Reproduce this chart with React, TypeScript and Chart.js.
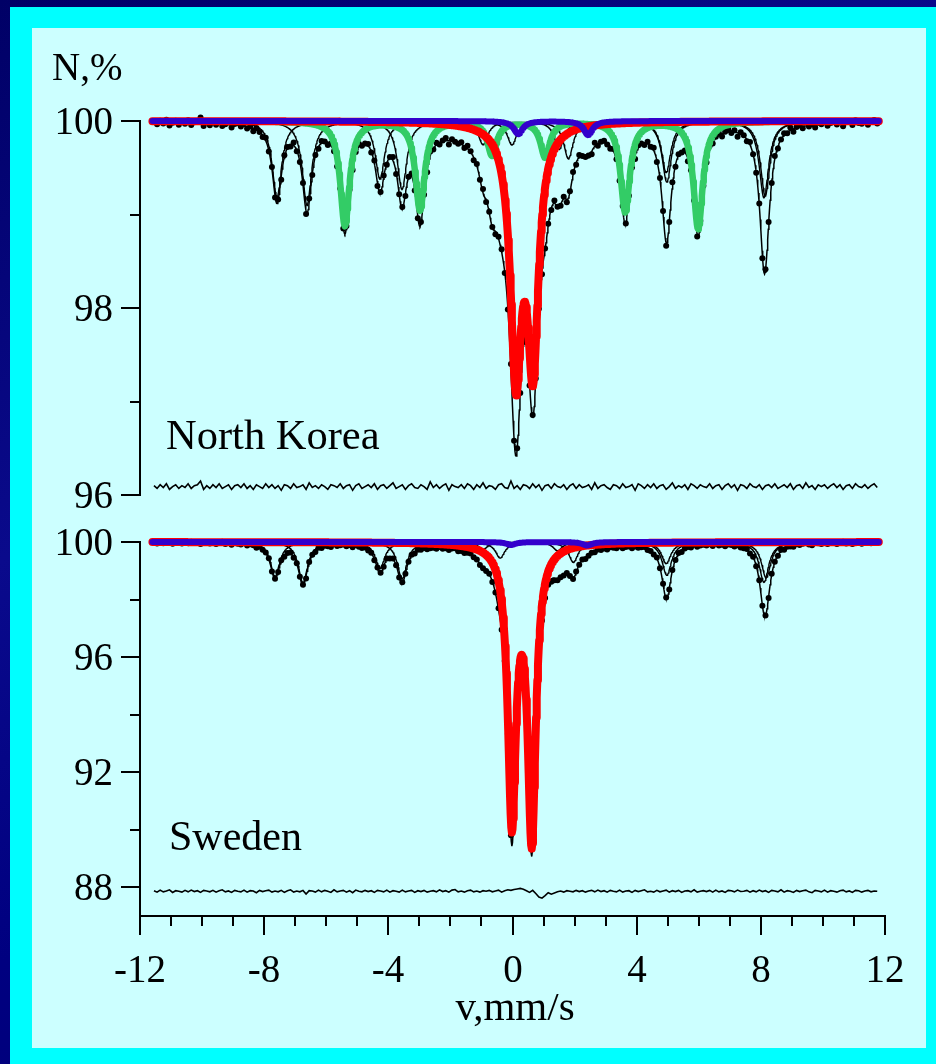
import React, { useEffect, useRef } from "react";
import { Chart, registerables } from "chart.js";

Chart.register(...registerables);

// ---------- velocity axis ----------
const X_MIN = -12;
const X_MAX = 12;
const X_MAJOR = [-12, -8, -4, 0, 4, 8, 12];
const X_MINOR = [-11, -10, -9, -7, -6, -5, -3, -2, -1, 1, 2, 3, 5, 6, 7, 9, 10, 11];
const X_LABEL = "v,mm/s";

// measurement channels (mm/s)
const CH_START = -11.55;
const CH_STEP = 0.1;
// fit curve evaluation grid (mm/s)
const CURVE_START = -11.6;
const CURVE_END = 11.8;
const CURVE_STEP = 0.02;

// ---------- North Korea ----------
const NK_NAME = "North Korea";
const NK_Y_MIN = 96;
const NK_Y_MAX = 100;
const NK_Y_MAJOR = [100, 98, 96];
const NK_Y_MINOR = [99, 97];
const NK_RES_BASE = 96.09;

const NK_GREEN_POS = [-5.4, -2.98, -0.66, 1.05, 3.63, 5.98];
const NK_GREEN_DEPTH = [1.12, 0.95, 0.36, 0.38, 0.97, 1.15];
const NK_GREEN_HWHM = 0.18;

const NK_S1_POS = [-7.59, -4.27, -0.95, 1.5, 4.95, 8.14];
const NK_S1_DEPTH = [0.82, 0.62, 0.25, 0.3, 0.55, 0.8];
const NK_S1_HWHM = 0.18;

const NK_S2_POS = [-6.62, -3.56, -0.02, 1.8, 4.97, 8.1];
const NK_S2_DEPTH = [0.9, 0.73, 0.25, 0.4, 0.65, 0.82];
const NK_S2_HWHM = 0.18;

const NK_RED_POS = [0.11, 0.66];
const NK_RED_DEPTH = [2.6, 2.49];
const NK_RED_HWHM = 0.215;

const NK_BLUE_POS = [0.18, 2.43];
const NK_BLUE_DEPTH = [0.14, 0.15];
const NK_BLUE_HWHM = 0.17;

const NK_BROAD_POS = [-0.35, 1.45];
const NK_BROAD_DEPTH = [0.5, 0.1];
const NK_BROAD_HWHM = 0.35;

const NK_BG_POS = [0.3];
const NK_BG_DEPTH = [0.12];
const NK_BG_HWHM = 3.0;

const NK_RES = [
  0.01, -0.02, 0.02, -0.01, 0.03, -0.03, 0.0, 0.02, -0.02, 0.01, -0.01, 0.03, -0.02, 0.01, 0.02, 0.06, -0.03, 0.01, -0.02, 0.02,
  -0.01, 0.03, -0.02, 0.0, 0.02, -0.03, 0.01, 0.02, -0.01, 0.03, -0.02, 0.01, -0.03, 0.02, 0.0, -0.02, 0.03, -0.01, 0.02, -0.02,
  0.01, -0.04, 0.02, 0.01, -0.02, 0.03, -0.01, 0.0, 0.02, -0.03, 0.04, -0.01, 0.01, -0.02, 0.02, 0.0, -0.03, 0.02, 0.01, -0.01,
  0.03, -0.02, 0.01, 0.02, -0.04, 0.01, 0.03, -0.02, 0.0, 0.02, -0.01, 0.03, -0.03, 0.01, 0.02, -0.02, 0.01, 0.04, -0.02, 0.0,
  0.02, -0.03, 0.01, 0.03, -0.01, -0.02, 0.02, 0.0, -0.03, 0.05, -0.01, 0.02, -0.02, 0.01, 0.03, -0.04, 0.02, 0.0, -0.01, 0.02,
  -0.02, 0.03, 0.01, -0.03, 0.02, -0.01, 0.04, -0.02, 0.01, 0.0, -0.03, 0.02, 0.03, -0.01, -0.02, 0.06, -0.02, 0.01, -0.03, 0.02,
  0.01, -0.02, 0.03, -0.01, 0.02, -0.04, 0.01, 0.02, -0.02, 0.03, 0.0, -0.01, 0.02, -0.03, 0.01, 0.03, -0.02, 0.02, -0.01, 0.0,
  0.02, -0.03, 0.04, -0.02, 0.01, 0.02, -0.01, -0.03, 0.02, 0.01, -0.02, 0.03, -0.01, 0.0, 0.02, -0.04, 0.03, 0.01, -0.02, 0.02,
  -0.01, 0.03, -0.02, 0.01, 0.02, -0.03, 0.0, 0.04, -0.02, 0.01, -0.01, 0.02, -0.03, 0.03, 0.01, -0.02, 0.02, 0.0, -0.01, 0.03,
  -0.02, 0.01, 0.02, -0.03, 0.01, 0.03, -0.01, 0.02, -0.04, 0.02, 0.01, -0.02, 0.03, 0.0, -0.01, 0.02, -0.03, 0.01, 0.02, -0.01,
  0.03, -0.02, 0.0, 0.02, -0.01, 0.03, -0.03, 0.01, 0.02, -0.02, 0.04, -0.01, 0.01, -0.03, 0.02, 0.0, 0.02, -0.02, 0.01, 0.03,
  -0.01, 0.02, -0.03, 0.01, 0.02, -0.02, 0.03, 0.0, -0.01, 0.02, -0.02, 0.01, 0.03, -0.01,
];

// ---------- Sweden ----------
const SW_NAME = "Sweden";
const SW_Y_MIN = 87;
const SW_Y_MAX = 100;
const SW_Y_MAJOR = [100, 96, 92, 88];
const SW_Y_MINOR = [98, 94, 90];
const SW_RES_BASE = 87.86;

const SW_S1_POS = [-7.65, -4.27, -0.95, 1.45, 4.95, 8.17];
const SW_S1_DEPTH = [1.2, 0.92, 0.25, 0.3, 0.75, 1.25];
const SW_S1_HWHM = 0.18;

const SW_S2_POS = [-6.75, -3.56, -0.4, 1.96, 4.97, 8.1];
const SW_S2_DEPTH = [1.42, 1.28, 0.55, 0.7, 1.15, 1.4];
const SW_S2_HWHM = 0.18;

const SW_RED_POS = [-0.02, 0.62];
const SW_RED_DEPTH = [9.5, 10.1];
const SW_RED_HWHM = 0.16;

const SW_BLUE_POS = [-0.05, 2.4];
const SW_BLUE_DEPTH = [0.1, 0.12];
const SW_BLUE_HWHM = 0.18;

const SW_BROAD_POS = [-0.5, 1.6];
const SW_BROAD_DEPTH = [0.25, 0.35];
const SW_BROAD_HWHM = 0.35;

const SW_BG_POS = [0.3];
const SW_BG_DEPTH = [0.15];
const SW_BG_HWHM = 3.0;

const SW_RES = [
  0.02, -0.03, 0.04, -0.02, 0.01, 0.05, -0.04, 0.02, 0.0, -0.03, 0.03, -0.02, 0.04, -0.01, 0.02, -0.04, 0.03, 0.01, -0.02, 0.03,
  -0.03, 0.02, 0.05, -0.02, 0.01, -0.04, 0.03, 0.0, -0.02, 0.04, -0.03, 0.02, 0.01, -0.05, 0.03, -0.01, 0.02, 0.04, -0.03, 0.01,
  -0.02, 0.03, -0.04, 0.02, 0.05, -0.03, 0.01, -0.02, 0.03, -0.1, 0.02, 0.01, -0.03, 0.04, -0.02, 0.03, 0.0, -0.04, 0.05, -0.02,
  0.01, 0.03, -0.03, 0.02, -0.05, 0.04, 0.0, -0.02, 0.03, -0.01, 0.02, -0.04, 0.03, 0.01, -0.02, 0.04, -0.03, 0.02, 0.0, -0.03,
  0.04, -0.02, 0.01, 0.03, -0.04, 0.02, -0.01, 0.03, -0.03, 0.0, 0.02, -0.02, 0.05, -0.01, 0.02, -0.03, 0.04, 0.06, -0.02, 0.01,
  -0.03, 0.02, 0.04, -0.02, 0.01, -0.03, 0.02, 0.0, 0.03, -0.02, 0.01, 0.04, -0.03, 0.02, 0.05, 0.03, 0.06, 0.08, 0.1, 0.07,
  0.02, -0.04, 0.03, -0.08, -0.2, -0.24, -0.15, -0.05, -0.1, -0.06, -0.02, 0.01, -0.03, 0.02, 0.0, -0.02, 0.03, -0.01, 0.02, -0.03,
  0.01, 0.03, -0.02, 0.04, -0.01, 0.02, -0.03, 0.03, 0.0, -0.02, 0.04, -0.03, 0.01, 0.02, -0.04, 0.03, -0.01, 0.02, 0.05, -0.02,
  0.0, -0.03, 0.03, -0.02, 0.01, 0.04, -0.03, 0.02, -0.01, 0.03, -0.04, 0.01, 0.02, -0.02, 0.05, -0.03, 0.0, 0.02, -0.01, 0.03,
  -0.03, 0.04, -0.02, 0.01, -0.04, 0.03, 0.02, -0.02, 0.04, -0.01, 0.0, 0.03, -0.03, 0.02, -0.02, 0.04, -0.01, 0.02, -0.04, 0.03,
  0.01, -0.02, 0.05, -0.03, 0.02, 0.0, -0.04, 0.03, -0.01, 0.02, 0.04, -0.02, -0.05, 0.03, 0.01, -0.02, 0.04, -0.03, 0.02, 0.0,
  -0.03, 0.02, 0.04, -0.02, 0.01, -0.04, 0.03, 0.02, -0.03, 0.01, 0.03, -0.02, 0.01, 0.0,
];

// ---------- styles ----------
const GREEN = "#33cc66";
const RED = "#ff0000";
const BLUE = "#3300cc";
const BLACK = "#000000";
const FONT = '"Liberation Serif", "Times New Roman", serif';

type Comp = {
  pos: number[];
  depth: number[];
  hwhm: number;
  color?: string;
  width?: number;
  order?: number;
};

function absorption(v: number, c: Comp): number {
  const g2 = c.hwhm * c.hwhm;
  let s = 0;
  for (let k = 0; k < c.pos.length; k++) {
    const d = v - c.pos[k];
    s += (c.depth[k] * g2) / (g2 + d * d);
  }
  return s;
}

function curveGrid(): number[] {
  const out: number[] = [];
  const n = Math.round((CURVE_END - CURVE_START) / CURVE_STEP);
  for (let i = 0; i <= n; i++) out.push(CURVE_START + i * CURVE_STEP);
  return out;
}

type Panel = {
  yMin: number;
  yMax: number;
  yMajor: number[];
  yMinor: number[];
  padding: { left: number; right: number; top: number; bottom: number };
  drawn: Comp[];
  hidden: Comp[];
  res: number[];
  resBase: number;
  xAxis: boolean;
  texts: { text: string; x: number; y: number; size: number; align: CanvasTextAlign }[];
};

function buildDatasets(p: Panel) {
  const all = [...p.drawn, ...p.hidden];
  const env = (v: number) => 100 - all.reduce((s, c) => s + absorption(v, c), 0);
  const grid = curveGrid();
  const ds: any[] = [];
  p.drawn.forEach((c) => {
    ds.push({
      data: grid.map((v) => ({ x: v, y: 100 - absorption(v, c) })),
      borderColor: c.color,
      borderWidth: c.width,
      pointRadius: 0,
      fill: false,
      clip: false,
      order: c.order,
      borderCapStyle: "round",
      borderJoinStyle: "round",
    });
  });
  ds.push({
    data: grid.map((v) => ({ x: v, y: env(v) })),
    borderColor: BLACK,
    borderWidth: 1.5,
    pointRadius: 0,
    fill: false,
    clip: false,
    order: 4,
  });
  ds.push({
    data: p.res.map((r, i) => {
      const v = CH_START + i * CH_STEP;
      return { x: v, y: env(v) + r };
    }),
    showLine: false,
    pointRadius: 3,
    pointBackgroundColor: BLACK,
    pointBorderWidth: 0,
    borderColor: BLACK,
    clip: false,
    order: 5,
  });
  ds.push({
    data: p.res.map((r, i) => ({ x: CH_START + i * CH_STEP, y: p.resBase + r })),
    borderColor: BLACK,
    borderWidth: 1.6,
    pointRadius: 0,
    fill: false,
    clip: false,
    order: 4,
  });
  return ds;
}

function axesPlugin(p: Panel) {
  return {
    id: "customAxes",
    afterDraw(chart: any) {
      const ctx: CanvasRenderingContext2D = chart.ctx;
      const xs = chart.scales.x;
      const ys = chart.scales.y;
      ctx.save();
      ctx.strokeStyle = BLACK;
      ctx.fillStyle = BLACK;
      ctx.lineWidth = 2;
      ctx.lineCap = "butt";
      const x0 = Math.round(xs.getPixelForValue(X_MIN));
      const yTop = ys.getPixelForValue(p.yMax);
      const yBot = ys.getPixelForValue(p.yMin);
      // y axis
      ctx.beginPath();
      ctx.moveTo(x0, yTop - 1);
      ctx.lineTo(x0, yBot + 1);
      ctx.stroke();
      ctx.font = `39px ${FONT}`;
      ctx.textAlign = "right";
      ctx.textBaseline = "alphabetic";
      p.yMajor.forEach((t) => {
        const y = Math.round(ys.getPixelForValue(t));
        ctx.beginPath();
        ctx.moveTo(x0 - 19, y);
        ctx.lineTo(x0, y);
        ctx.stroke();
        ctx.fillText(String(t), x0 - 27, y + 13);
      });
      p.yMinor.forEach((t) => {
        const y = Math.round(ys.getPixelForValue(t));
        ctx.beginPath();
        ctx.moveTo(x0 - 10, y);
        ctx.lineTo(x0, y);
        ctx.stroke();
      });
      if (p.xAxis) {
        const yA = Math.round(yBot);
        const x1 = xs.getPixelForValue(X_MAX);
        ctx.beginPath();
        ctx.moveTo(x0 - 1, yA);
        ctx.lineTo(x1 + 1, yA);
        ctx.stroke();
        ctx.textAlign = "center";
        X_MAJOR.forEach((t) => {
          const x = Math.round(xs.getPixelForValue(t));
          ctx.beginPath();
          ctx.moveTo(x, yA);
          ctx.lineTo(x, yA + 19);
          ctx.stroke();
          ctx.fillText(String(t), x, yA + 66);
        });
        X_MINOR.forEach((t) => {
          const x = Math.round(xs.getPixelForValue(t));
          ctx.beginPath();
          ctx.moveTo(x, yA);
          ctx.lineTo(x, yA + 10);
          ctx.stroke();
        });
      }
      p.texts.forEach((t) => {
        ctx.font = `${t.size}px ${FONT}`;
        ctx.textAlign = t.align;
        ctx.fillText(t.text, t.x, t.y);
      });
      ctx.restore();
    },
  };
}

function buildConfig(p: Panel): any {
  return {
    type: "line",
    data: { datasets: buildDatasets(p) },
    options: {
      animation: false,
      responsive: false,
      events: [],
      layout: { padding: p.padding },
      plugins: {
        legend: { display: false },
        tooltip: { enabled: false },
        title: { display: false },
      },
      elements: { line: { tension: 0 } },
      scales: {
        x: { type: "linear", min: X_MIN, max: X_MAX, display: false },
        y: { type: "linear", min: p.yMin, max: p.yMax, display: false },
      },
    },
    plugins: [axesPlugin(p)],
  };
}

const NK_PANEL: Panel = {
  yMin: NK_Y_MIN,
  yMax: NK_Y_MAX,
  yMajor: NK_Y_MAJOR,
  yMinor: NK_Y_MINOR,
  padding: { left: 140, right: 51, top: 121, bottom: 569 },
  drawn: [
    { pos: NK_BLUE_POS, depth: NK_BLUE_DEPTH, hwhm: NK_BLUE_HWHM, color: BLUE, width: 6, order: 0 },
    { pos: NK_RED_POS, depth: NK_RED_DEPTH, hwhm: NK_RED_HWHM, color: RED, width: 8, order: 1 },
    { pos: NK_GREEN_POS, depth: NK_GREEN_DEPTH, hwhm: NK_GREEN_HWHM, color: GREEN, width: 6.5, order: 2 },
    { pos: NK_S1_POS, depth: NK_S1_DEPTH, hwhm: NK_S1_HWHM, color: BLACK, width: 1.4, order: 3 },
    { pos: NK_S2_POS, depth: NK_S2_DEPTH, hwhm: NK_S2_HWHM, color: BLACK, width: 1.4, order: 3 },
  ],
  hidden: [
    { pos: NK_BROAD_POS, depth: NK_BROAD_DEPTH, hwhm: NK_BROAD_HWHM },
    { pos: NK_BG_POS, depth: NK_BG_DEPTH, hwhm: NK_BG_HWHM },
  ],
  res: NK_RES,
  resBase: NK_RES_BASE,
  xAxis: false,
  texts: [
    { text: "N,%", x: 52, y: 80, size: 39, align: "left" },
    { text: NK_NAME, x: 166, y: 449, size: 42.5, align: "left" },
  ],
};

const SW_PANEL: Panel = {
  yMin: SW_Y_MIN,
  yMax: SW_Y_MAX,
  yMajor: SW_Y_MAJOR,
  yMinor: SW_Y_MINOR,
  padding: { left: 140, right: 51, top: 542, bottom: 148 },
  drawn: [
    { pos: SW_BLUE_POS, depth: SW_BLUE_DEPTH, hwhm: SW_BLUE_HWHM, color: BLUE, width: 6, order: 0 },
    { pos: SW_RED_POS, depth: SW_RED_DEPTH, hwhm: SW_RED_HWHM, color: RED, width: 8, order: 1 },
    { pos: SW_S1_POS, depth: SW_S1_DEPTH, hwhm: SW_S1_HWHM, color: BLACK, width: 1.4, order: 3 },
    { pos: SW_S2_POS, depth: SW_S2_DEPTH, hwhm: SW_S2_HWHM, color: BLACK, width: 1.4, order: 3 },
  ],
  hidden: [
    { pos: SW_BROAD_POS, depth: SW_BROAD_DEPTH, hwhm: SW_BROAD_HWHM },
    { pos: SW_BG_POS, depth: SW_BG_DEPTH, hwhm: SW_BG_HWHM },
  ],
  res: SW_RES,
  resBase: SW_RES_BASE,
  xAxis: true,
  texts: [
    { text: SW_NAME, x: 169, y: 850, size: 42, align: "left" },
    { text: X_LABEL, x: 515, y: 1020, size: 41, align: "center" },
  ],
};

export default function App() {
  const topRef = useRef<HTMLCanvasElement>(null);
  const botRef = useRef<HTMLCanvasElement>(null);
  useEffect(() => {
    const c1 = new Chart(topRef.current as HTMLCanvasElement, buildConfig(NK_PANEL));
    const c2 = new Chart(botRef.current as HTMLCanvasElement, buildConfig(SW_PANEL));
    return () => {
      c1.destroy();
      c2.destroy();
    };
  }, []);
  const canvasStyle: React.CSSProperties = {
    position: "absolute",
    left: 0,
    top: 0,
    width: 936,
    height: 1064,
  };
  return (
    <div
      style={{
        position: "absolute",
        left: 0,
        top: 0,
        width: 936,
        height: 1064,
        overflow: "hidden",
        background: "linear-gradient(150deg, #000066 0%, #0a0a8c 35%, #000080 60%, #000070 100%)",
      }}
    >
      <div style={{ position: "absolute", left: 10, top: 7, right: 0, bottom: 0, background: "#00ffff" }} />
      <div style={{ position: "absolute", left: 32, top: 28, width: 894, height: 1020, background: "#ccffff" }} />
      <canvas ref={topRef} width={936} height={1064} style={canvasStyle} />
      <canvas ref={botRef} width={936} height={1064} style={canvasStyle} />
    </div>
  );
}
